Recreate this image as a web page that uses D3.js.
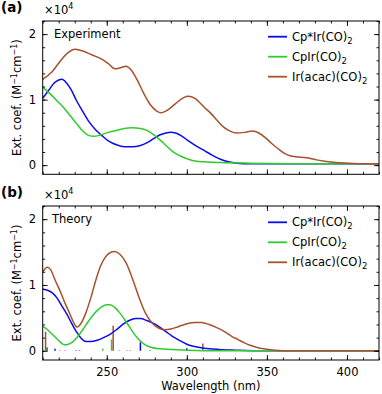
<!DOCTYPE html>
<html>
<head>
<meta charset="utf-8">
<script src="https://cdn.jsdelivr.net/npm/d3@7"></script>
<style>
  body { margin: 0; background: #fff; }
  svg text { font-family: 'DejaVu Sans', sans-serif; fill: #000; }
</style>
</head>
<body>
<div id="chart"></div>
<script>
// data, extinction coefficient in units of 1e4 M^-1 cm^-1
var seriesNames  = ['Cp*Ir(CO)', 'CpIr(CO)', 'Ir(acac)(CO)'];   // each gets subscript 2
var seriesColors = ['#0b0bee', '#2ecc2e', '#a5522d'];

var xTicks      = [250, 300, 350, 400];
var xMinorTicks = d3.range(210, 421, 10);
var yTicks      = [0, 1, 2];
var yMinorTicks = d3.range(0, 2.21, 0.2);

// (a) experiment
var expCpStarWl = [210, 214, 217, 220, 222, 225, 228, 231, 235, 239, 243, 247, 251, 256, 261, 266, 271, 275, 279, 283, 287, 290, 293, 297, 301, 306, 311, 316, 321, 326, 331, 340, 420];
var expCpStar   = [1.02, 1.15, 1.25, 1.30, 1.31, 1.25, 1.14, 0.99, 0.82, 0.66, 0.54, 0.45, 0.37, 0.31, 0.28, 0.28, 0.30, 0.34, 0.40, 0.46, 0.49, 0.50, 0.49, 0.44, 0.37, 0.29, 0.22, 0.15, 0.09, 0.05, 0.03, 0.02, 0.02];

var expCpWl = [210, 215, 219, 223, 227, 231, 235, 239, 242, 246, 251, 256, 261, 266, 271, 275, 279, 283, 287, 291, 296, 301, 306, 311, 321, 340, 380, 420];
var expCp   = [1.19, 1.08, 0.98, 0.88, 0.76, 0.64, 0.52, 0.45, 0.44, 0.46, 0.50, 0.53, 0.56, 0.57, 0.56, 0.53, 0.47, 0.39, 0.30, 0.21, 0.14, 0.09, 0.06, 0.05, 0.04, 0.03, 0.02, 0.02];

var expAcacWl = [210, 216, 221, 226, 230, 234, 241, 246, 251, 255, 259, 262, 265, 269, 273, 277, 281, 284, 288, 293, 298, 301, 305, 311, 315, 319, 323, 327, 331, 336, 341, 345, 349, 353, 357, 361, 365, 371, 376, 381, 386, 393, 401, 410, 420];
var expAcac   = [1.31, 1.43, 1.59, 1.72, 1.77, 1.75, 1.68, 1.63, 1.55, 1.47, 1.49, 1.51, 1.46, 1.30, 1.10, 0.93, 0.83, 0.80, 0.84, 0.94, 1.03, 1.05, 1.02, 0.88, 0.79, 0.68, 0.58, 0.52, 0.49, 0.50, 0.52, 0.49, 0.42, 0.33, 0.25, 0.18, 0.14, 0.12, 0.11, 0.08, 0.06, 0.04, 0.03, 0.02, 0.02];

// (b) theory
var thCpStarWl = [210, 213, 216, 219, 222, 225, 228, 231, 234, 237, 240, 244, 248, 252, 256, 260, 264, 268, 271, 275, 279, 283, 287, 291, 296, 300, 304, 308, 314, 320, 330, 345, 420];
var thCpStar   = [0.94, 0.92, 0.88, 0.80, 0.68, 0.56, 0.42, 0.29, 0.19, 0.14, 0.14, 0.16, 0.20, 0.25, 0.32, 0.40, 0.46, 0.49, 0.49, 0.46, 0.42, 0.36, 0.29, 0.22, 0.15, 0.10, 0.07, 0.05, 0.03, 0.02, 0.01, 0.0, 0.0];

var thCpWl = [210, 213, 216, 219, 222, 224, 226, 229, 232, 235, 238, 241, 244, 247, 250, 252, 255, 258, 261, 264, 267, 270, 274, 278, 283, 290, 300, 320, 420];
var thCp   = [0.37, 0.32, 0.25, 0.18, 0.11, 0.09, 0.10, 0.14, 0.22, 0.32, 0.43, 0.53, 0.61, 0.67, 0.70, 0.70, 0.66, 0.58, 0.48, 0.37, 0.26, 0.17, 0.09, 0.05, 0.03, 0.02, 0.01, 0.0, 0.0];

var thAcacWl = [210, 213, 215, 218, 221, 224, 227, 229.5, 231.5, 234, 237, 240, 243, 246, 249, 252, 255, 258, 262, 266, 270, 274, 278, 282, 286, 290, 295, 300, 305, 309, 314, 318, 323, 328, 332, 336, 340, 344, 348, 355, 365, 420];
var thAcac   = [1.20, 1.27, 1.23, 1.06, 0.90, 0.72, 0.56, 0.42, 0.36, 0.42, 0.58, 0.80, 1.06, 1.28, 1.42, 1.49, 1.51, 1.47, 1.34, 1.10, 0.82, 0.58, 0.43, 0.35, 0.32, 0.33, 0.37, 0.41, 0.43, 0.43, 0.40, 0.36, 0.30, 0.22, 0.17, 0.12, 0.08, 0.05, 0.03, 0.01, 0.0, 0.0];

// oscillator sticks (theory)
var stickCpStarWl = [212.7, 217.7, 230.8, 233, 271, 277, 300];
var stickCpStar   = [0.05, 0.03, 0.01, 0.01, 0.13, 0.01, 0.04];
var stickCpWl     = [212.5, 247.5, 253];
var stickCp       = [0.04, 0.03, 0.17];
var stickAcacWl   = [211.8, 220.8, 224, 254, 258, 262.5, 264.6, 310];
var stickAcac     = [0.29, 0.01, 0.01, 0.38, 0.01, 0.01, 0.01, 0.11];


// layout
var width  = 382
  , height = 394
  , left   = 42.7
  , right  = 379
;

var svg = d3.select('#chart').append('svg')
    .attr('width', width)
    .attr('height', height);

var x = d3.scaleLinear().domain([210, 420]).range([left, right]);

function zip(wl, v) { return wl.map(function (w, i) { return [w, v[i]]; }); }

function addSub(sel, base, sub, size) {
  sel.append('tspan').text(base);
  sel.append('tspan').text(sub).attr('font-size', size).attr('dy', 3);
}

function drawPanel(cfg) {
  var y = d3.scaleLinear().domain([-0.14, 2.2]).range([cfg.bottom, cfg.top]);
  var g = svg.append('g');
  var clipId = 'clip' + cfg.letter;

  g.append('clipPath').attr('id', clipId)
    .append('rect')
      .attr('x', left).attr('y', cfg.top)
      .attr('width', right - left).attr('height', cfg.bottom - cfg.top);

  var line = d3.line()
      .x(function (d) { return x(d[0]); })
      .y(function (d) { return y(d[1]); })
      .curve(d3.curveMonotoneX);

  var plot = g.append('g').attr('clip-path', 'url(#' + clipId + ')');

  // sticks
  (cfg.sticks || []).forEach(function (s, i) {
    plot.selectAll('line.stick' + i)
        .data(s)
        .enter()
        .append('line')
        .attr('class', 'stick' + i)
        .attr('x1', function (d) { return x(d[0]); })
        .attr('x2', function (d) { return x(d[0]); })
        .attr('y1', y(0))
        .attr('y2', function (d) { return y(d[1]); })
        .attr('stroke', seriesColors[i])
        .attr('stroke-width', 1.5);
  });

  cfg.curves.forEach(function (c, i) {
    plot.append('path')
        .datum(c)
        .attr('d', line)
        .attr('fill', 'none')
        .attr('stroke', seriesColors[i])
        .attr('stroke-width', 1.5);
  });

  // axes, ticks point inward on every side
  function styleAxis(a) {
    a.select('.domain').remove();
    a.selectAll('line').attr('stroke', '#000').attr('stroke-width', 0.9);
    a.selectAll('text').attr('font-size', 11.5).attr('font-family', 'DejaVu Sans').attr('fill', '#000');
  }

  var bottomMajor = d3.axisBottom(x).tickValues(xTicks).tickSize(-5).tickPadding(7.8);
  if (!cfg.xLabels) bottomMajor.tickFormat('');
  g.append('g').attr('transform', 'translate(0,' + cfg.bottom + ')').call(bottomMajor).call(styleAxis);
  g.append('g').attr('transform', 'translate(0,' + cfg.bottom + ')')
    .call(d3.axisBottom(x).tickValues(xMinorTicks).tickSize(-2.5).tickFormat('')).call(styleAxis);
  g.append('g').attr('transform', 'translate(0,' + cfg.top + ')')
    .call(d3.axisTop(x).tickValues(xTicks).tickSize(-5).tickFormat('')).call(styleAxis);
  g.append('g').attr('transform', 'translate(0,' + cfg.top + ')')
    .call(d3.axisTop(x).tickValues(xMinorTicks).tickSize(-2.5).tickFormat('')).call(styleAxis);

  g.append('g').attr('transform', 'translate(' + left + ',0)')
    .call(d3.axisLeft(y).tickValues(yTicks).tickSize(-5).tickPadding(6.5).tickFormat(d3.format('d'))).call(styleAxis);
  g.append('g').attr('transform', 'translate(' + left + ',0)')
    .call(d3.axisLeft(y).tickValues(yMinorTicks).tickSize(-2.5).tickFormat('')).call(styleAxis);
  g.append('g').attr('transform', 'translate(' + right + ',0)')
    .call(d3.axisRight(y).tickValues(yTicks).tickSize(-5).tickFormat('')).call(styleAxis);
  g.append('g').attr('transform', 'translate(' + right + ',0)')
    .call(d3.axisRight(y).tickValues(yMinorTicks).tickSize(-2.5).tickFormat('')).call(styleAxis);

  g.append('rect')
      .attr('x', left).attr('y', cfg.top)
      .attr('width', right - left).attr('height', cfg.bottom - cfg.top)
      .attr('fill', 'none').attr('stroke', '#000').attr('stroke-width', 1);

  // panel letter and multiplier
  g.append('text')
      .attr('x', 1).attr('y', cfg.top - 9)
      .attr('font-size', 13.5).attr('font-weight', 'bold')
      .text('(' + cfg.letter + ')');

  var mult = g.append('text')
      .attr('x', 44).attr('y', cfg.top - 7)
      .attr('font-size', 11.5);
  mult.append('tspan').text('\u00d710');
  mult.append('tspan').text('4').attr('font-size', 8).attr('dy', -5);

  // y label
  var yl = g.append('text')
      .attr('transform', 'translate(17,' + ((cfg.top + cfg.bottom) / 2) + ') rotate(-90)')
      .attr('text-anchor', 'middle')
      .attr('dy', '0.35em')
      .attr('font-size', 11.5);
  yl.append('tspan').text('Ext. coef. (M');
  yl.append('tspan').text('\u22121').attr('font-size', 8).attr('dy', -4.5);
  yl.append('tspan').text('cm').attr('dy', 4.5);
  yl.append('tspan').text('\u22121').attr('font-size', 8).attr('dy', -4.5);
  yl.append('tspan').text(')').attr('dy', 4.5);

  // panel title
  g.append('text')
      .attr('x', cfg.titleX).attr('y', y(2) + 4)
      .attr('font-size', 11.5)
      .text(cfg.title);

  // legend
  var lg = g.selectAll('g.legend')
      .data(seriesNames)
      .enter()
      .append('g')
      .attr('class', 'legend')
      .attr('transform', function (d, i) { return 'translate(268,' + (cfg.legendY + i * 20) + ')'; });

  lg.append('line')
      .attr('x1', 0).attr('x2', 19)
      .attr('stroke', function (d, i) { return seriesColors[i]; })
      .attr('stroke-width', 1.8);

  lg.append('text')
      .attr('x', 24).attr('dy', '0.35em')
      .attr('font-size', 11.5)
      .each(function (d) { addSub(d3.select(this), d, '2', 8.5); });
}

drawPanel({
    letter: 'a'
  , top: 21
  , bottom: 174.3
  , title: 'Experiment'
  , titleX: 54
  , legendY: 36.7
  , xLabels: false
  , curves: [zip(expCpStarWl, expCpStar), zip(expCpWl, expCp), zip(expAcacWl, expAcac)]
});

drawPanel({
    letter: 'b'
  , top: 206
  , bottom: 360
  , title: 'Theory'
  , titleX: 52
  , legendY: 222.3
  , xLabels: true
  , curves: [zip(thCpStarWl, thCpStar), zip(thCpWl, thCp), zip(thAcacWl, thAcac)]
  , sticks: [zip(stickCpStarWl, stickCpStar), zip(stickCpWl, stickCp), zip(stickAcacWl, stickAcac)]
});

// shared x label
svg.append('text')
    .attr('x', (left + right) / 2).attr('y', 390)
    .attr('text-anchor', 'middle')
    .attr('font-size', 11.5)
    .text('Wavelength (nm)');
</script>
</body>
</html>
